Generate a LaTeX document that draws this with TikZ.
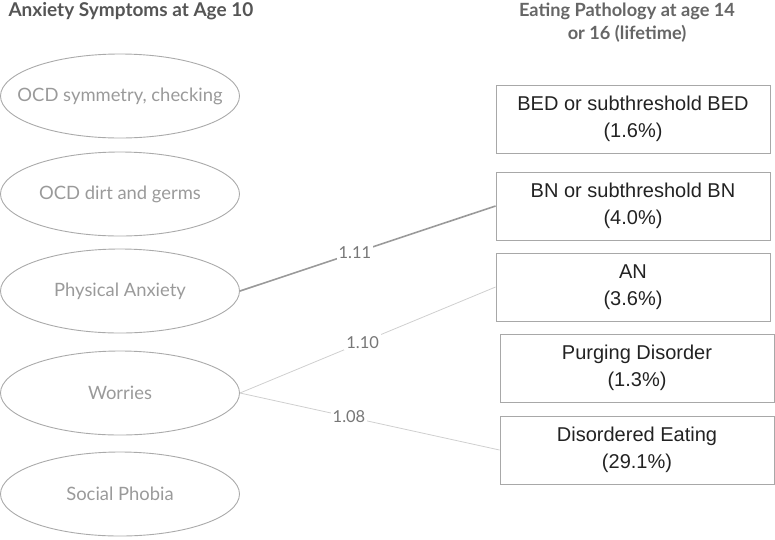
\documentclass[tikz,border=0pt]{standalone}
\usepackage{fontspec}
\setmainfont{Lato}
\newfontfamily\arialfont{Liberation Sans}
\usetikzlibrary{shapes.geometric}
\definecolor{ellgray}{HTML}{AAAAAA}
\definecolor{elltxt}{HTML}{9A9A9A}
\definecolor{hdr}{HTML}{555555}
\definecolor{hdrtwo}{HTML}{666666}
\definecolor{boxline}{HTML}{A8A8A8}
\definecolor{boxtxt}{HTML}{222222}
\definecolor{strongedge}{HTML}{9A9A9A}
\definecolor{weakedge}{HTML}{CFCFCF}
\definecolor{lbltxt}{HTML}{777777}
\tikzset{
  ell/.style={ellipse, draw=ellgray, line width=0.9pt, minimum width=239pt, minimum height=84pt, inner sep=0pt},
  elltext/.style={text=elltxt, font=\fontsize{18.4}{22}\selectfont},
  outbox/.style={rectangle, draw=boxline, line width=0.9pt, minimum width=274pt, minimum height=68pt, inner sep=0pt, align=center, text=boxtxt, font=\arialfont\fontsize{20}{27}\selectfont},
  hdrstyle/.style={font=\bfseries\fontsize{18.2}{23}\selectfont, align=center},
  strong/.style={draw=strongedge, line width=1.6pt},
  weak/.style={draw=weakedge, line width=0.8pt},
  coef/.style={fill=white, text=lbltxt, inner sep=2pt, font=\fontsize{16.5}{18}\selectfont}
}
\begin{document}
\begin{tikzpicture}[x=1pt,y=-1pt]
\useasboundingbox (0,0) rectangle (775,539);
\node[hdrstyle, text=hdr, anchor=west, font=\bfseries\fontsize{19}{22.5}\selectfont] (h1) at (5,11) {Anxiety Symptoms at Age 10};
\node[hdrstyle, text=hdrtwo] (h2) at (627,23) {Eating Pathology at age 14\\or 16 (lifetime)};

\node[ell, label={[elltext]center:OCD symmetry, checking}] (ocds) at (120,96) {};
\node[ell, label={[elltext]center:OCD dirt and germs}] (ocdd) at (120,194) {};
\node[ell, label={[elltext]center:Physical Anxiety}] (pa) at (120,291) {};
\node[ell, label={[elltext]center:Worries}] (wo) at (120,393) {};
\node[ell, label={[elltext]center:Social Phobia}] (sp) at (120,494) {};

\node[outbox] (bed) at (633,119) {BED or subthreshold BED\\(1.6\%)};
\node[outbox] (bn) at (633,206) {BN or subthreshold BN\\(4.0\%)};
\node[outbox] (an) at (633,287) {AN\\(3.6\%)};
\node[outbox] (pd) at (637,368) {Purging Disorder\\(1.3\%)};
\node[outbox] (de) at (637,450) {Disordered Eating\\(29.1\%)};

\draw[strong] (pa.east) -- node[coef, pos=0.45] {1.11} (bn.west);
\draw[weak] (wo.east) -- node[coef, pos=0.48] {1.10} (an.west);
\draw[weak] (wo.east) -- node[coef, pos=0.42] {1.08} (de.west);
\end{tikzpicture}
\end{document}
